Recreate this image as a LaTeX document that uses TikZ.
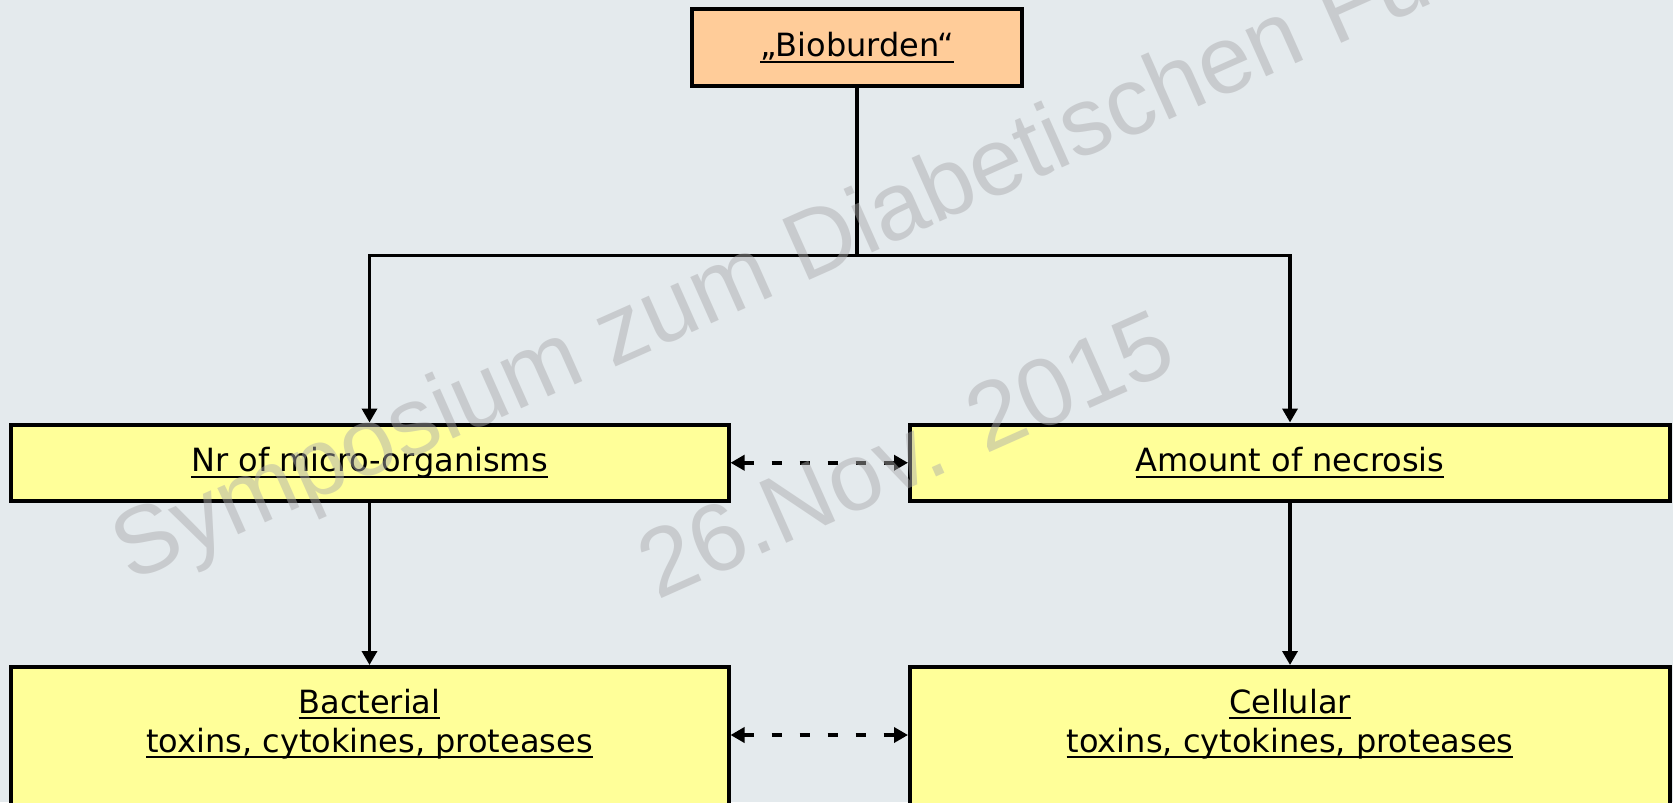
\documentclass[tikz,border=0pt]{standalone}
\usepackage{fontspec}
\setmainfont{DejaVu Sans}
\newfontfamily\wmfont{Liberation Sans}
\usetikzlibrary{arrows.meta}

% underlined text: a thin rule just below the baseline
\newcommand{\uln}[1]{\setbox0\hbox{#1}\rlap{\rule[-3pt]{\wd0}{0.9pt}}\box0}

\definecolor{bgc}{RGB}{228,234,237}
\definecolor{peach}{RGB}{255,204,153}
\definecolor{lemon}{RGB}{255,255,153}
\definecolor{wmc}{RGB}{170,170,172}

\tikzset{
  box/.style={draw=black, line width=2pt, inner sep=0pt, align=center,
    font=\fontsize{16pt}{19pt}\selectfont},
  topbox/.style={box, fill=peach},
  midbox/.style={box, fill=lemon, minimum height=38.25pt},
  lowbox/.style={box, fill=lemon, minimum height=77.5pt},
  lbl/.style={inner sep=0pt, anchor=base, font=\fontsize{16pt}{19pt}\selectfont},
  conn/.style={draw=black, line width=1.7pt},
  arr/.style={conn, -{Triangle[length=7pt,width=7.5pt]}},
  dblarr/.style={draw=black, line width=2pt, dash pattern=on 5pt off 9pt,
    {Triangle[length=7pt,width=7.5pt]}-{Triangle[length=7pt,width=7.5pt]}},
  wm/.style={inner sep=0pt, anchor=base west, rotate=24, text=wmc,
    text opacity=0.47, font=\wmfont\fontsize{48pt}{48pt}\selectfont}
}

\begin{document}
\begin{tikzpicture}[x=0.5pt,y=-0.5pt]
  % canvas
  \useasboundingbox (0,0) rectangle (1673,802);
  \fill[bgc] (0,0) rectangle (1673,802);
  \clip (0,0) rectangle (1673,802);

  % boxes
  \node[topbox, minimum width=165pt, minimum height=38.8pt] (top) at (857,47.5) {\uln{„Bioburden“}};
  \node[midbox, minimum width=359pt] (ml) at (369.5,462.75) {\uln{Nr of micro-organisms}};
  \node[midbox, minimum width=380pt] (mr) at (1290,462.75) {\uln{Amount of necrosis}};
  \node[lowbox, minimum width=359pt] (bl) at (369.5,744.5) {};
  \node[lowbox, minimum width=380pt] (br) at (1290,744.5) {};

  % texts of the lower boxes
  \node[lbl] (bl1) at (369.5,713) {\uln{Bacterial}};
  \node[lbl] (bl2) at (369.5,752) {\uln{toxins, cytokines, proteases}};
  \node[lbl] (br1) at (1290,713) {\uln{Cellular}};
  \node[lbl] (br2) at (1290,752) {\uln{toxins, cytokines, proteases}};

  % connectors
  \coordinate (split) at (857,255.3);
  \coordinate (row) at (0,735);
  \draw[conn] (top.south) -- (split);
  \draw[arr] (split) -| (ml.north);
  \draw[arr] (split) -| (mr.north);
  \draw[arr] (ml.south) -- (bl.north);
  \draw[arr] (mr.south) -- (br.north);
  \draw[dblarr] (ml.east) -- (mr.west);
  \draw[dblarr] (bl.north east |- row) -- (br.north west |- row);

  % watermark
  \node[wm] (wm1) at (130,583) {Symposium zum Diabetischen Fu};
  \node[wm] (wm2) at (657,601) {26.Nov. 2015};
\end{tikzpicture}
\end{document}
